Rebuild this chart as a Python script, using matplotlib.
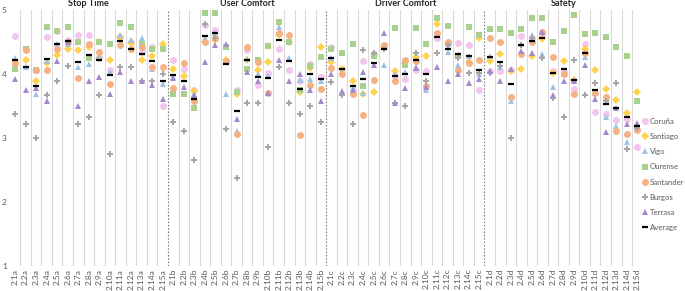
import matplotlib
matplotlib.use("Agg")
import matplotlib.pyplot as plt
import numpy as np

plt.rcParams['font.family'] = ['Lato', 'DejaVu Sans']

groups = ["Stop Time", "User Comfort", "Driver Comfort", "Safety"]
suffixes = ["a", "b", "c", "d"]
labels = [f"2.{i}{s}" for s in suffixes for i in range(1, 16)]

# values, 60 items each (a, b, c, d blocks of 15)
coruna = [4.59, 4.38, 4.06, 4.58, 4.67, 4.53, 4.60, 4.61, 4.25, 4.06, 4.58, 4.50, 4.34, 4.42, 3.50,
          4.22, 4.07, 3.75, 4.76, 4.68, 4.20, 3.74, 4.37, 3.83, 4.01, 4.39, 4.06, 3.89, 4.15, 3.95,
          4.42, 4.08, 3.75, 4.20, 4.30, 4.42, 3.97, 3.92, 4.06, 4.04, 4.55, 4.47, 4.48, 4.45, 3.75,
          4.04, 4.04, 4.05, 4.59, 4.55, 4.60, 4.04, 4.04, 3.76, 4.46, 3.41, 3.37, 3.27, 3.30, 2.85]
santiago = [4.20, 4.21, 3.88, 4.17, 4.29, 4.38, 4.37, 4.42, 4.25, 4.21, 4.58, 4.48, 4.21, 4.28, 4.47,
            4.08, 3.96, 3.73, 4.50, 4.53, 4.22, 3.69, 4.21, 4.05, 4.18, 4.61, 4.50, 3.71, 4.09, 4.42,
            4.18, 4.07, 3.88, 3.68, 3.72, 4.42, 4.04, 4.16, 4.26, 4.28, 4.77, 4.48, 4.27, 4.18, 4.56,
            4.20, 4.30, 4.04, 4.08, 4.28, 4.54, 4.01, 4.20, 3.90, 4.39, 4.05, 3.76, 3.59, 3.38, 3.72]
vigo = [4.24, 4.11, 3.68, 4.20, 4.46, 4.47, 4.10, 4.15, 4.27, 4.02, 4.61, 4.53, 4.55, 4.07, 3.84,
        3.95, 3.70, 3.68, 4.55, 4.64, 3.68, 3.11, 4.23, 3.99, 3.96, 4.73, 4.24, 3.90, 3.92, 3.89,
        4.25, 4.04, 3.77, 3.70, 4.33, 4.13, 3.99, 4.03, 4.10, 3.74, 4.60, 4.34, 4.13, 4.27, 4.00,
        4.28, 4.11, 3.58, 4.47, 4.61, 4.31, 3.80, 4.00, 3.90, 4.26, 3.70, 3.32, 3.18, 2.94, 3.20]
ourense = [4.07, 4.39, 4.06, 4.73, 4.66, 4.73, 4.49, 4.25, 4.49, 4.47, 4.79, 4.73, 4.47, 4.39, 4.39,
           3.68, 3.68, 3.46, 4.94, 4.94, 4.42, 3.71, 4.07, 4.21, 4.43, 4.81, 4.50, 3.74, 4.12, 4.26,
           4.39, 4.33, 4.47, 3.81, 4.27, 4.42, 4.72, 4.13, 4.72, 4.47, 4.87, 4.75, 4.28, 4.73, 4.60,
           4.69, 4.69, 4.63, 4.69, 4.87, 4.87, 4.50, 4.66, 4.92, 4.62, 4.64, 4.57, 4.42, 4.28, 3.57]
santander = [4.16, 4.37, 4.06, 4.05, 4.39, 4.50, 3.94, 4.47, 4.34, 3.84, 4.45, 4.38, 4.41, 4.10, 4.10,
             3.78, 4.16, 3.58, 4.49, 4.55, 4.20, 3.06, 4.41, 4.18, 3.70, 4.64, 4.61, 3.05, 3.82, 3.76,
             4.09, 4.00, 3.69, 3.36, 3.90, 4.45, 3.89, 4.21, 4.20, 3.81, 4.64, 4.49, 4.05, 4.16, 4.21,
             4.56, 4.50, 3.64, 4.30, 4.50, 4.65, 4.26, 4.00, 3.68, 4.32, 3.70, 3.64, 3.11, 3.06, 3.12]
burgos = [3.37, 3.22, 3.00, 3.66, 3.89, 4.12, 3.22, 3.33, 3.66, 2.75, 4.11, 4.11, 3.88, 3.88, 4.00,
          3.25, 3.11, 2.66, 4.77, 4.55, 3.14, 2.37, 3.55, 3.55, 2.85, 4.11, 3.55, 3.37, 3.50, 3.25,
          3.87, 3.66, 3.22, 4.37, 4.33, 4.39, 3.54, 3.50, 4.33, 3.89, 4.33, 4.45, 4.25, 4.01, 4.01,
          4.01, 4.12, 3.00, 4.45, 4.55, 4.25, 3.62, 3.33, 4.22, 3.66, 3.86, 3.58, 3.86, 2.83, 3.16]
terrasa = [3.92, 3.75, 3.77, 3.58, 4.20, 4.49, 3.49, 3.89, 3.95, 3.68, 4.03, 3.88, 3.88, 3.83, 3.60,
           3.94, 3.79, 3.66, 4.18, 4.44, 4.46, 3.30, 4.03, 3.89, 3.70, 4.21, 3.89, 4.00, 3.74, 3.57,
           3.99, 3.73, 3.75, 4.03, 4.14, 4.64, 3.54, 3.77, 4.09, 3.79, 4.10, 3.89, 3.99, 3.85, 3.92,
           4.04, 3.89, 4.07, 4.35, 4.32, 4.65, 3.66, 3.89, 3.89, 4.13, 3.61, 3.09, 3.47, 3.22, 3.23]
average = [4.22, 4.11, 3.81, 4.23, 4.46, 4.51, 4.18, 4.29, 4.21, 3.98, 4.51, 4.39, 4.31, 4.20, 3.89,
           3.98, 3.89, 3.60, 4.59, 4.63, 4.15, 3.42, 4.22, 3.95, 3.93, 4.52, 4.20, 3.76, 3.99, 3.91,
           4.25, 4.08, 3.81, 3.91, 4.17, 4.39, 3.97, 3.99, 4.21, 3.99, 4.58, 4.38, 4.30, 4.27, 4.05,
           4.26, 4.19, 3.84, 4.45, 4.51, 4.56, 4.01, 4.08, 3.90, 4.33, 3.74, 3.53, 3.47, 3.33, 3.19]

series = [
    ("Coruña", coruna, "o", "#F2C6EE", 5.0),
    ("Santiago", santiago, "D", "#FFD24D", 3.8),
    ("Vigo", vigo, "^", "#9DC3E6", 4.6),
    ("Ourense", ourense, "s", "#A9D18E", 4.6),
    ("Santander", santander, "o", "#F4B183", 5.0),
    ("Burgos", burgos, "P", "#A6A6A6", 4.4),
    ("Terrasa", terrasa, "^", "#A788CC", 4.6),
]

fig = plt.figure(figsize=(6.85, 2.91), dpi=100)
ax = fig.add_axes([0.0142, 0.086, 0.924, 0.881])

x = np.arange(len(labels))
for name, vals, mk, col, ms in series:
    ax.plot(x, vals, linestyle="none", marker=mk, ms=ms, color=col,
            markeredgewidth=0, label=name)
ax.plot(x, average, linestyle="none", marker="_", ms=5, mew=1.6, color="black",
        label="Average")

# category separators and group dividers
for b in np.arange(0.5, len(labels) - 1, 1.0):
    if int(b + 0.5) % 15 == 0:
        ax.axvline(b, color="#7F7F7F", lw=0.8, ls=(0, (1.5, 1.5)), zorder=0)
    else:
        ax.axvline(b, color="#D9D9D9", lw=0.8, zorder=0)

ax.set_xlim(-0.5, len(labels) - 0.5)
ax.set_ylim(1, 5)
ax.set_xticks(x)
ax.set_xticklabels(labels, rotation=90, fontsize=6, color="#595959")
ax.set_yticks([1, 2, 3, 4, 5])
ax.tick_params(axis="both", length=0, pad=2, labelsize=6, colors="#595959")
for s in ax.spines.values():
    s.set_visible(False)

for k, g in enumerate(groups):
    ax.text(15 * k + 7, 5.02, g, ha="center", va="bottom", fontsize=6.5,
            fontweight="bold", color="#262626")

fig.legend(loc="upper left", bbox_to_anchor=(0.938, 0.595), frameon=False,
           fontsize=5.6, handlelength=0.7, handletextpad=0.2, labelspacing=1.05,
           borderaxespad=0, borderpad=0, labelcolor="#595959")

fig.savefig("out.png", dpi=100)
